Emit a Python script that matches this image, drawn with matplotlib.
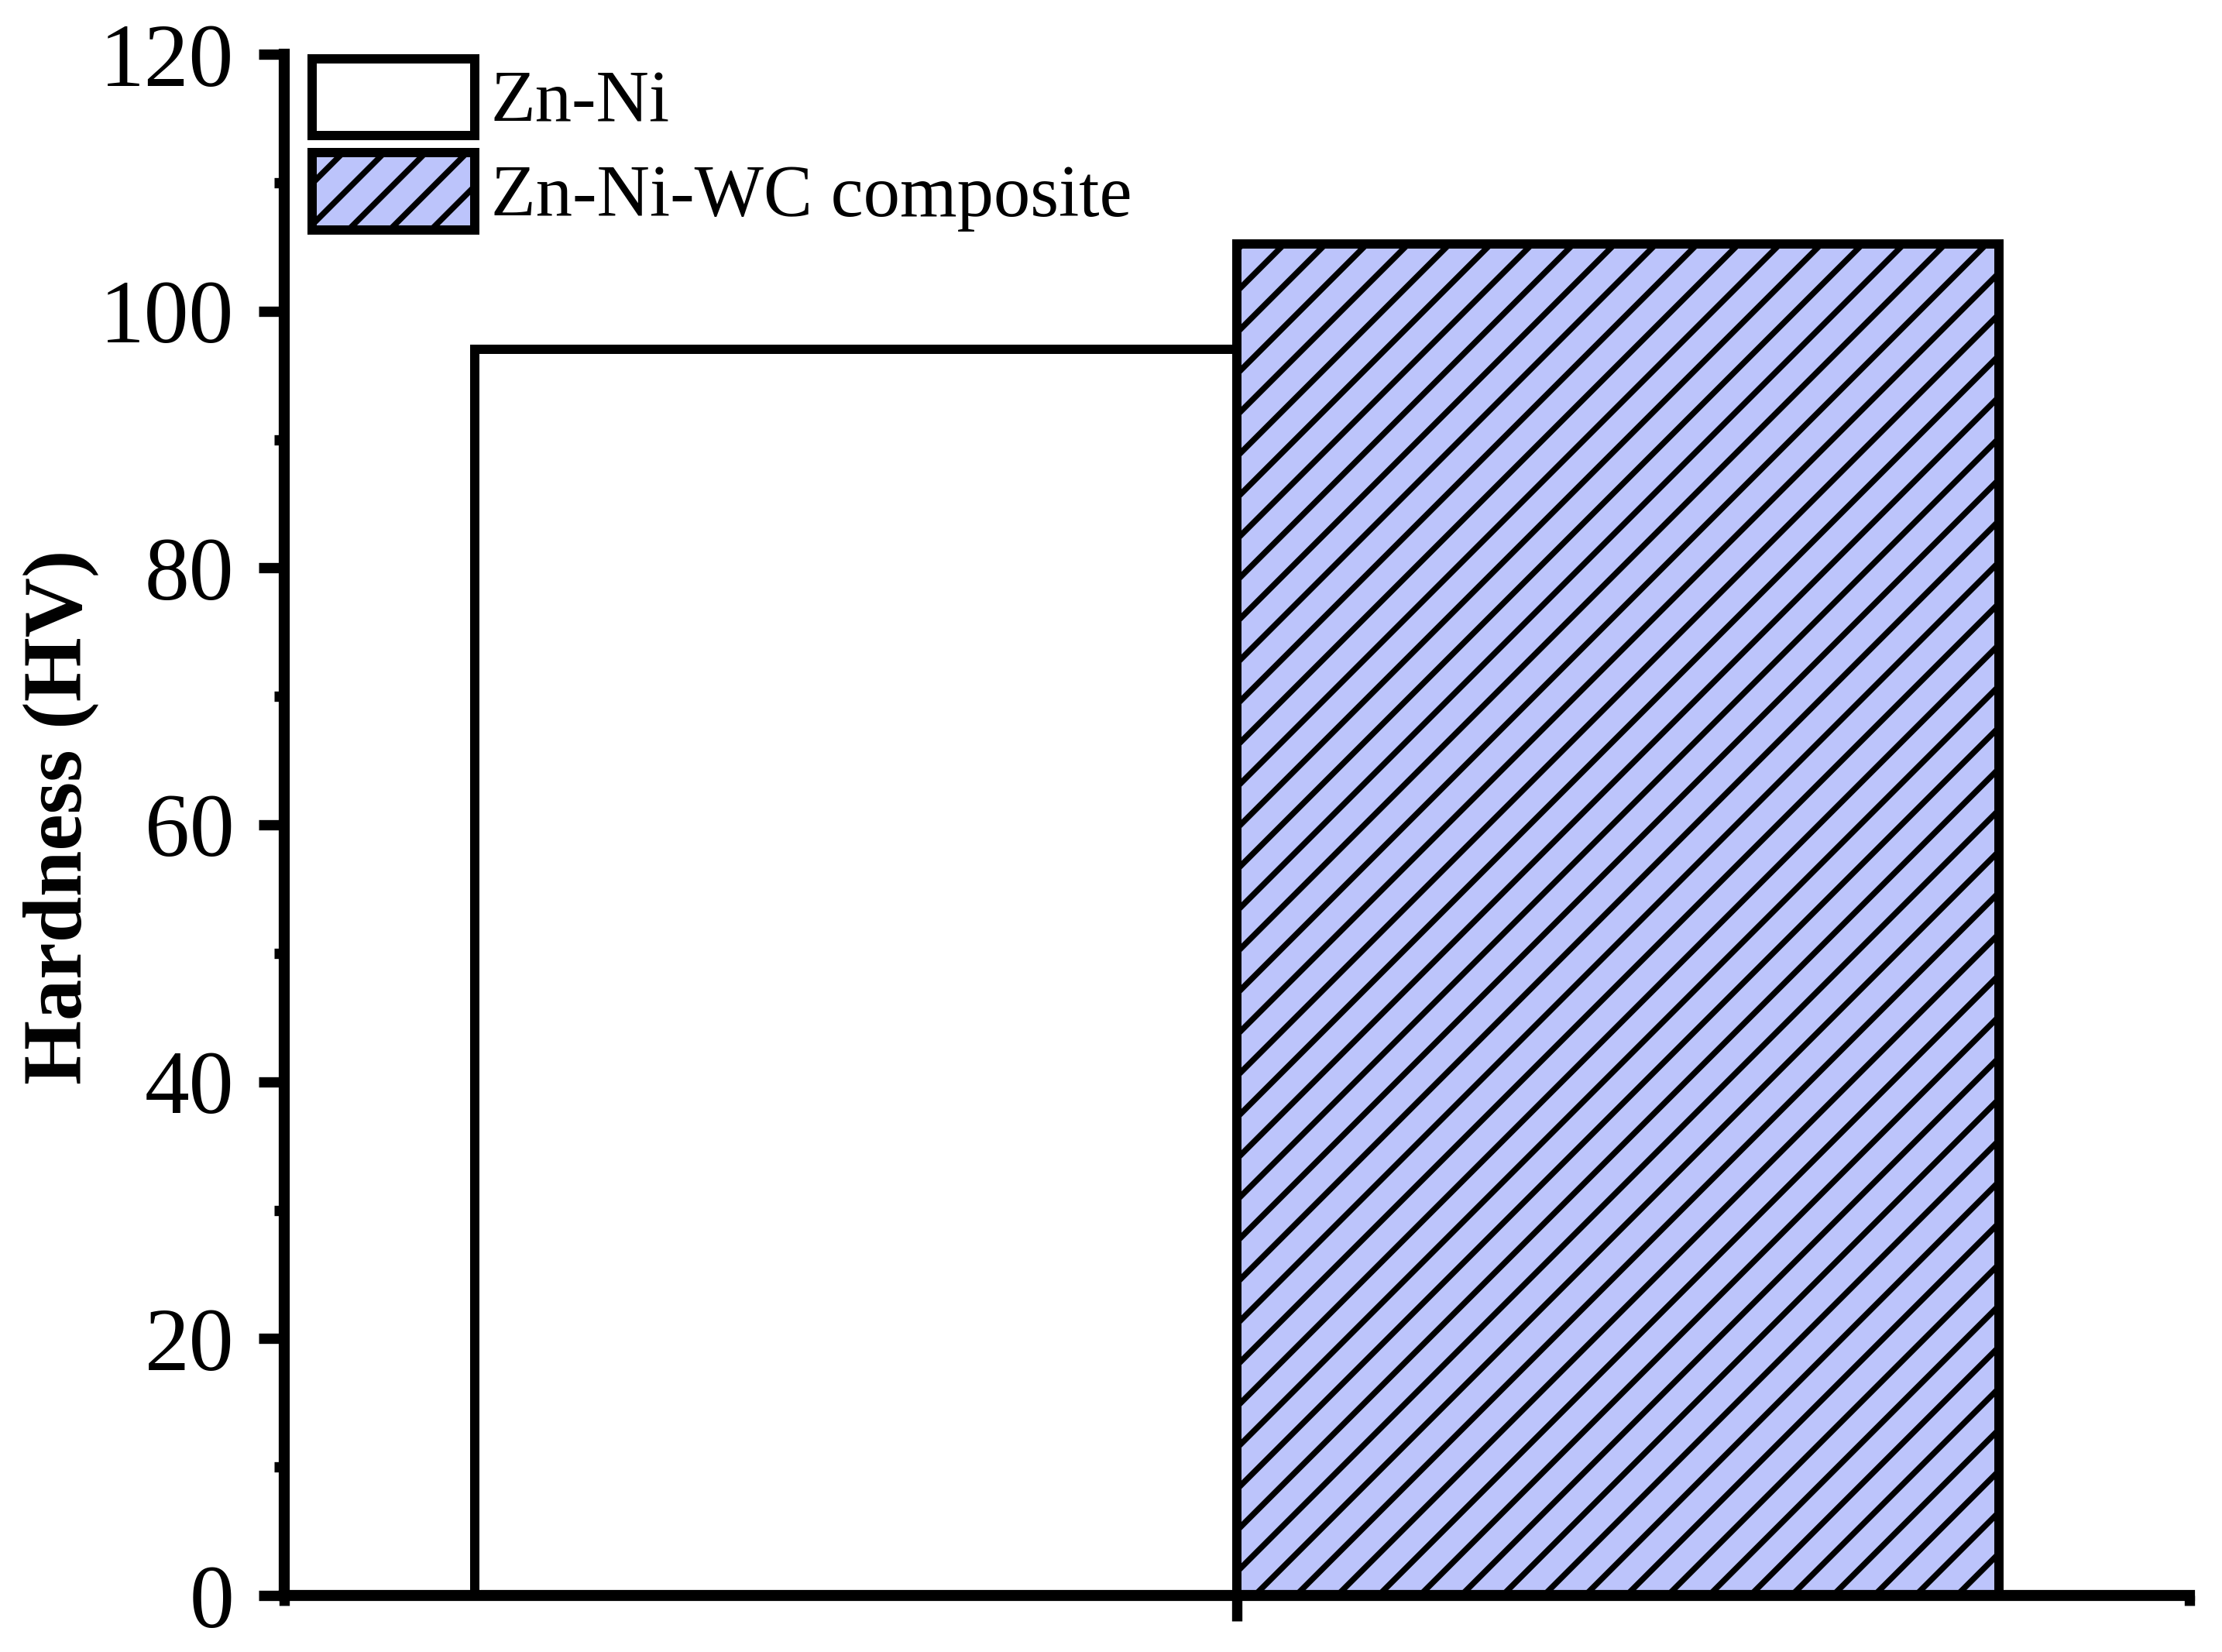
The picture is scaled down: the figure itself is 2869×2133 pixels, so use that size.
import matplotlib
matplotlib.use("Agg")
from matplotlib import pyplot as plt
from matplotlib.ticker import MultipleLocator, FixedLocator

# data
labels = ["Zn-Ni", "Zn-Ni-WC composite"]
hardness = [97.0, 105.2]
group_x = 1
offsets = [-0.4, 0.4]

plt.rcParams['font.family'] = ['Liberation Serif', 'DejaVu Serif']
plt.rcParams['hatch.linewidth'] = 1.7
plt.rcParams['hatch.color'] = 'black'

fig = plt.figure(figsize=(2869 / 320, 2133 / 320), dpi=320)
ax = fig.add_axes([367 / 2869, 1 - 2060 / 2133, 2460 / 2869, 1990 / 2133])

ax.bar(group_x + offsets[0], hardness[0], width=0.8, color='white',
       edgecolor='black', linewidth=2.7, label=labels[0])
ax.bar(group_x + offsets[1], hardness[1], width=0.8, color='#BCC4FB',
       edgecolor='black', linewidth=2.7, hatch='//', label=labels[1])

ax.set_xlim(0, 2)
ax.set_ylim(0, 120)
ax.xaxis.set_major_locator(FixedLocator([1]))
ax.xaxis.set_minor_locator(FixedLocator([0, 2]))
ax.xaxis.set_major_formatter(plt.NullFormatter())
ax.yaxis.set_major_locator(MultipleLocator(20))
ax.yaxis.set_minor_locator(MultipleLocator(10))

for side in ['top', 'right']:
    ax.spines[side].set_visible(False)
for side in ['left', 'bottom']:
    ax.spines[side].set_linewidth(3.2)

ax.tick_params(which='major', direction='out', length=7.5, width=3, labelsize=26, pad=7)
ax.tick_params(which='minor', direction='out', length=3, width=3)

ax.set_ylabel('Hardness (HV)', fontsize=24, fontweight='bold')
ax.yaxis.set_label_coords(-0.097, 0.505)

ax.legend(loc='upper left', bbox_to_anchor=(0.0146, 0.997), frameon=False,
          fontsize=21.3, borderpad=0, borderaxespad=0, handlelength=2.22,
          handleheight=1.24, labelspacing=0.21, handletextpad=0.22)

fig.savefig('out.png', dpi=320)
